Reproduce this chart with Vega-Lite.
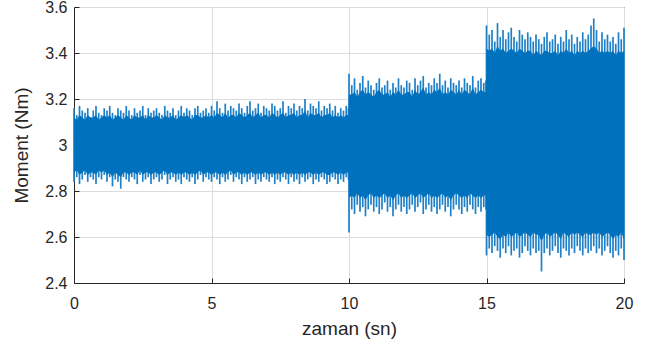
{
"$schema":"https://vega.github.io/schema/vega-lite/v6.json",
"width":550,"height":276,
"autosize":{"type":"none"},
"padding":{"left":74,"top":7,"right":24,"bottom":62},
"background":"white",
"config":{
 "view":{"stroke":"#262626","strokeWidth":1},
 "font":"Liberation Sans",
 "axis":{"domainColor":"#262626","tickColor":"#262626","labelColor":"#262626","titleColor":"#262626","labelFont":"Liberation Sans","titleFont":"Liberation Sans","labelFontSize":16,"titleFontSize":19,"titleFontWeight":"normal","gridColor":"#dcdcdc","labelFlush":false,"labelOverlap":false,"tickSize":-5}
},
"data":{"values":[
{"t":0.0,"hi":3.16,"lo":2.84,"chi":3.12,"clo":2.88},
{"t":0.1,"hi":3.13,"lo":2.86,"chi":3.11,"clo":2.89},
{"t":0.2,"hi":3.17,"lo":2.83,"chi":3.13,"clo":2.87},
{"t":0.3,"hi":3.15,"lo":2.85,"chi":3.12,"clo":2.88},
{"t":0.4,"hi":3.14,"lo":2.87,"chi":3.11,"clo":2.89},
{"t":0.5,"hi":3.16,"lo":2.84,"chi":3.13,"clo":2.87},
{"t":0.6,"hi":3.12,"lo":2.86,"chi":3.12,"clo":2.88},
{"t":0.7,"hi":3.15,"lo":2.85,"chi":3.12,"clo":2.88},
{"t":0.8,"hi":3.17,"lo":2.83,"chi":3.13,"clo":2.87},
{"t":0.9,"hi":3.14,"lo":2.86,"chi":3.11,"clo":2.89},
{"t":1.0,"hi":3.13,"lo":2.85,"chi":3.12,"clo":2.88},
{"t":1.1,"hi":3.16,"lo":2.87,"chi":3.13,"clo":2.89},
{"t":1.2,"hi":3.15,"lo":2.84,"chi":3.12,"clo":2.87},
{"t":1.3,"hi":3.17,"lo":2.86,"chi":3.13,"clo":2.88},
{"t":1.4,"hi":3.14,"lo":2.82,"chi":3.11,"clo":2.86},
{"t":1.5,"hi":3.13,"lo":2.85,"chi":3.12,"clo":2.88},
{"t":1.6,"hi":3.16,"lo":2.84,"chi":3.13,"clo":2.87},
{"t":1.7,"hi":3.15,"lo":2.81,"chi":3.12,"clo":2.86},
{"t":1.8,"hi":3.14,"lo":2.86,"chi":3.11,"clo":2.88},
{"t":1.9,"hi":3.17,"lo":2.85,"chi":3.13,"clo":2.88},
{"t":2.0,"hi":3.15,"lo":2.84,"chi":3.12,"clo":2.87},
{"t":2.1,"hi":3.13,"lo":2.86,"chi":3.11,"clo":2.88},
{"t":2.2,"hi":3.16,"lo":2.85,"chi":3.13,"clo":2.88},
{"t":2.3,"hi":3.14,"lo":2.83,"chi":3.12,"clo":2.87},
{"t":2.4,"hi":3.15,"lo":2.87,"chi":3.12,"clo":2.89},
{"t":2.5,"hi":3.17,"lo":2.84,"chi":3.13,"clo":2.87},
{"t":2.6,"hi":3.13,"lo":2.85,"chi":3.11,"clo":2.88},
{"t":2.7,"hi":3.16,"lo":2.86,"chi":3.13,"clo":2.88},
{"t":2.8,"hi":3.14,"lo":2.83,"chi":3.12,"clo":2.87},
{"t":2.9,"hi":3.15,"lo":2.85,"chi":3.12,"clo":2.88},
{"t":3.0,"hi":3.16,"lo":2.86,"chi":3.13,"clo":2.88},
{"t":3.1,"hi":3.14,"lo":2.84,"chi":3.12,"clo":2.87},
{"t":3.2,"hi":3.13,"lo":2.85,"chi":3.11,"clo":2.88},
{"t":3.3,"hi":3.17,"lo":2.87,"chi":3.13,"clo":2.89},
{"t":3.4,"hi":3.15,"lo":2.83,"chi":3.12,"clo":2.87},
{"t":3.5,"hi":3.14,"lo":2.85,"chi":3.12,"clo":2.88},
{"t":3.6,"hi":3.16,"lo":2.86,"chi":3.13,"clo":2.88},
{"t":3.7,"hi":3.13,"lo":2.84,"chi":3.11,"clo":2.87},
{"t":3.8,"hi":3.15,"lo":2.85,"chi":3.12,"clo":2.88},
{"t":3.9,"hi":3.17,"lo":2.83,"chi":3.13,"clo":2.87},
{"t":4.0,"hi":3.14,"lo":2.86,"chi":3.12,"clo":2.88},
{"t":4.1,"hi":3.16,"lo":2.85,"chi":3.13,"clo":2.88},
{"t":4.2,"hi":3.15,"lo":2.84,"chi":3.12,"clo":2.87},
{"t":4.3,"hi":3.13,"lo":2.86,"chi":3.11,"clo":2.88},
{"t":4.4,"hi":3.16,"lo":2.83,"chi":3.13,"clo":2.87},
{"t":4.5,"hi":3.17,"lo":2.85,"chi":3.13,"clo":2.88},
{"t":4.6,"hi":3.14,"lo":2.87,"chi":3.12,"clo":2.89},
{"t":4.7,"hi":3.15,"lo":2.84,"chi":3.12,"clo":2.87},
{"t":4.8,"hi":3.16,"lo":2.86,"chi":3.13,"clo":2.88},
{"t":4.9,"hi":3.14,"lo":2.85,"chi":3.12,"clo":2.88},
{"t":5.0,"hi":3.17,"lo":2.84,"chi":3.13,"clo":2.87},
{"t":5.1,"hi":3.15,"lo":2.86,"chi":3.12,"clo":2.88},
{"t":5.2,"hi":3.19,"lo":2.85,"chi":3.14,"clo":2.88},
{"t":5.3,"hi":3.16,"lo":2.83,"chi":3.13,"clo":2.87},
{"t":5.4,"hi":3.14,"lo":2.86,"chi":3.12,"clo":2.88},
{"t":5.5,"hi":3.18,"lo":2.84,"chi":3.14,"clo":2.87},
{"t":5.6,"hi":3.15,"lo":2.85,"chi":3.12,"clo":2.88},
{"t":5.7,"hi":3.17,"lo":2.87,"chi":3.13,"clo":2.89},
{"t":5.8,"hi":3.16,"lo":2.84,"chi":3.13,"clo":2.87},
{"t":5.9,"hi":3.15,"lo":2.86,"chi":3.12,"clo":2.88},
{"t":6.0,"hi":3.18,"lo":2.85,"chi":3.14,"clo":2.88},
{"t":6.1,"hi":3.16,"lo":2.83,"chi":3.13,"clo":2.87},
{"t":6.2,"hi":3.14,"lo":2.86,"chi":3.12,"clo":2.88},
{"t":6.3,"hi":3.17,"lo":2.84,"chi":3.13,"clo":2.87},
{"t":6.4,"hi":3.19,"lo":2.85,"chi":3.14,"clo":2.88},
{"t":6.5,"hi":3.15,"lo":2.86,"chi":3.12,"clo":2.88},
{"t":6.6,"hi":3.16,"lo":2.83,"chi":3.13,"clo":2.87},
{"t":6.7,"hi":3.18,"lo":2.85,"chi":3.14,"clo":2.88},
{"t":6.8,"hi":3.14,"lo":2.84,"chi":3.12,"clo":2.87},
{"t":6.9,"hi":3.17,"lo":2.86,"chi":3.13,"clo":2.88},
{"t":7.0,"hi":3.16,"lo":2.85,"chi":3.13,"clo":2.88},
{"t":7.1,"hi":3.15,"lo":2.84,"chi":3.12,"clo":2.87},
{"t":7.2,"hi":3.18,"lo":2.86,"chi":3.14,"clo":2.88},
{"t":7.3,"hi":3.17,"lo":2.83,"chi":3.13,"clo":2.87},
{"t":7.4,"hi":3.15,"lo":2.85,"chi":3.12,"clo":2.88},
{"t":7.5,"hi":3.16,"lo":2.84,"chi":3.13,"clo":2.87},
{"t":7.6,"hi":3.19,"lo":2.86,"chi":3.14,"clo":2.88},
{"t":7.7,"hi":3.14,"lo":2.85,"chi":3.12,"clo":2.88},
{"t":7.8,"hi":3.17,"lo":2.83,"chi":3.13,"clo":2.87},
{"t":7.9,"hi":3.16,"lo":2.86,"chi":3.13,"clo":2.88},
{"t":8.0,"hi":3.18,"lo":2.84,"chi":3.14,"clo":2.87},
{"t":8.1,"hi":3.15,"lo":2.85,"chi":3.12,"clo":2.88},
{"t":8.2,"hi":3.17,"lo":2.83,"chi":3.13,"clo":2.87},
{"t":8.3,"hi":3.16,"lo":2.86,"chi":3.13,"clo":2.88},
{"t":8.4,"hi":3.20,"lo":2.84,"chi":3.15,"clo":2.87},
{"t":8.5,"hi":3.15,"lo":2.85,"chi":3.12,"clo":2.88},
{"t":8.6,"hi":3.18,"lo":2.86,"chi":3.14,"clo":2.88},
{"t":8.7,"hi":3.17,"lo":2.83,"chi":3.13,"clo":2.87},
{"t":8.8,"hi":3.16,"lo":2.85,"chi":3.13,"clo":2.88},
{"t":8.9,"hi":3.19,"lo":2.84,"chi":3.14,"clo":2.87},
{"t":9.0,"hi":3.15,"lo":2.86,"chi":3.12,"clo":2.88},
{"t":9.1,"hi":3.17,"lo":2.85,"chi":3.13,"clo":2.88},
{"t":9.2,"hi":3.16,"lo":2.83,"chi":3.13,"clo":2.87},
{"t":9.3,"hi":3.18,"lo":2.84,"chi":3.14,"clo":2.87},
{"t":9.4,"hi":3.15,"lo":2.86,"chi":3.12,"clo":2.88},
{"t":9.5,"hi":3.17,"lo":2.85,"chi":3.13,"clo":2.88},
{"t":9.6,"hi":3.14,"lo":2.83,"chi":3.12,"clo":2.87},
{"t":9.7,"hi":3.16,"lo":2.85,"chi":3.13,"clo":2.88},
{"t":9.8,"hi":3.15,"lo":2.84,"chi":3.12,"clo":2.87},
{"t":9.9,"hi":3.17,"lo":2.86,"chi":3.13,"clo":2.88},
{"t":9.98,"hi":3.16,"lo":2.85,"chi":3.13,"clo":2.88},
{"t":10.0,"hi":3.31,"lo":2.62,"chi":3.22,"clo":2.77},
{"t":10.1,"hi":3.26,"lo":2.72,"chi":3.22,"clo":2.78},
{"t":10.2,"hi":3.29,"lo":2.70,"chi":3.23,"clo":2.77},
{"t":10.3,"hi":3.24,"lo":2.74,"chi":3.21,"clo":2.79},
{"t":10.4,"hi":3.27,"lo":2.71,"chi":3.23,"clo":2.77},
{"t":10.5,"hi":3.30,"lo":2.73,"chi":3.24,"clo":2.78},
{"t":10.6,"hi":3.25,"lo":2.69,"chi":3.22,"clo":2.76},
{"t":10.7,"hi":3.28,"lo":2.72,"chi":3.23,"clo":2.78},
{"t":10.8,"hi":3.26,"lo":2.74,"chi":3.22,"clo":2.79},
{"t":10.9,"hi":3.24,"lo":2.71,"chi":3.21,"clo":2.77},
{"t":11.0,"hi":3.27,"lo":2.73,"chi":3.23,"clo":2.78},
{"t":11.1,"hi":3.29,"lo":2.70,"chi":3.24,"clo":2.77},
{"t":11.2,"hi":3.25,"lo":2.72,"chi":3.22,"clo":2.78},
{"t":11.3,"hi":3.26,"lo":2.75,"chi":3.22,"clo":2.79},
{"t":11.4,"hi":3.28,"lo":2.71,"chi":3.23,"clo":2.77},
{"t":11.5,"hi":3.24,"lo":2.73,"chi":3.21,"clo":2.78},
{"t":11.6,"hi":3.27,"lo":2.69,"chi":3.23,"clo":2.76},
{"t":11.7,"hi":3.25,"lo":2.72,"chi":3.22,"clo":2.78},
{"t":11.8,"hi":3.29,"lo":2.74,"chi":3.24,"clo":2.79},
{"t":11.9,"hi":3.26,"lo":2.71,"chi":3.22,"clo":2.77},
{"t":12.0,"hi":3.25,"lo":2.73,"chi":3.22,"clo":2.78},
{"t":12.1,"hi":3.28,"lo":2.70,"chi":3.23,"clo":2.77},
{"t":12.2,"hi":3.27,"lo":2.72,"chi":3.23,"clo":2.78},
{"t":12.3,"hi":3.24,"lo":2.74,"chi":3.21,"clo":2.79},
{"t":12.4,"hi":3.29,"lo":2.71,"chi":3.24,"clo":2.77},
{"t":12.5,"hi":3.26,"lo":2.73,"chi":3.22,"clo":2.78},
{"t":12.6,"hi":3.28,"lo":2.75,"chi":3.23,"clo":2.79},
{"t":12.7,"hi":3.30,"lo":2.70,"chi":3.25,"clo":2.77},
{"t":12.8,"hi":3.25,"lo":2.72,"chi":3.22,"clo":2.78},
{"t":12.9,"hi":3.27,"lo":2.74,"chi":3.23,"clo":2.79},
{"t":13.0,"hi":3.26,"lo":2.71,"chi":3.22,"clo":2.77},
{"t":13.1,"hi":3.29,"lo":2.73,"chi":3.24,"clo":2.78},
{"t":13.2,"hi":3.27,"lo":2.70,"chi":3.23,"clo":2.77},
{"t":13.3,"hi":3.31,"lo":2.72,"chi":3.25,"clo":2.78},
{"t":13.4,"hi":3.26,"lo":2.74,"chi":3.22,"clo":2.79},
{"t":13.5,"hi":3.28,"lo":2.71,"chi":3.23,"clo":2.77},
{"t":13.6,"hi":3.25,"lo":2.73,"chi":3.22,"clo":2.78},
{"t":13.7,"hi":3.29,"lo":2.69,"chi":3.24,"clo":2.76},
{"t":13.8,"hi":3.27,"lo":2.72,"chi":3.23,"clo":2.78},
{"t":13.9,"hi":3.26,"lo":2.74,"chi":3.22,"clo":2.79},
{"t":14.0,"hi":3.28,"lo":2.72,"chi":3.24,"clo":2.78},
{"t":14.1,"hi":3.25,"lo":2.70,"chi":3.22,"clo":2.77},
{"t":14.2,"hi":3.29,"lo":2.73,"chi":3.24,"clo":2.78},
{"t":14.3,"hi":3.27,"lo":2.71,"chi":3.23,"clo":2.77},
{"t":14.4,"hi":3.26,"lo":2.74,"chi":3.22,"clo":2.79},
{"t":14.5,"hi":3.30,"lo":2.72,"chi":3.25,"clo":2.78},
{"t":14.6,"hi":3.25,"lo":2.70,"chi":3.22,"clo":2.77},
{"t":14.7,"hi":3.28,"lo":2.73,"chi":3.23,"clo":2.78},
{"t":14.8,"hi":3.29,"lo":2.71,"chi":3.24,"clo":2.77},
{"t":14.9,"hi":3.27,"lo":2.73,"chi":3.23,"clo":2.78},
{"t":14.98,"hi":3.28,"lo":2.72,"chi":3.23,"clo":2.78},
{"t":15.0,"hi":3.52,"lo":2.52,"chi":3.42,"clo":2.61},
{"t":15.1,"hi":3.48,"lo":2.55,"chi":3.41,"clo":2.60},
{"t":15.2,"hi":3.50,"lo":2.53,"chi":3.42,"clo":2.61},
{"t":15.3,"hi":3.45,"lo":2.56,"chi":3.40,"clo":2.62},
{"t":15.4,"hi":3.53,"lo":2.54,"chi":3.43,"clo":2.60},
{"t":15.5,"hi":3.47,"lo":2.51,"chi":3.41,"clo":2.59},
{"t":15.6,"hi":3.50,"lo":2.55,"chi":3.42,"clo":2.61},
{"t":15.7,"hi":3.46,"lo":2.53,"chi":3.40,"clo":2.60},
{"t":15.8,"hi":3.49,"lo":2.56,"chi":3.41,"clo":2.62},
{"t":15.9,"hi":3.51,"lo":2.52,"chi":3.42,"clo":2.60},
{"t":16.0,"hi":3.47,"lo":2.54,"chi":3.41,"clo":2.61},
{"t":16.1,"hi":3.45,"lo":2.55,"chi":3.40,"clo":2.62},
{"t":16.2,"hi":3.50,"lo":2.51,"chi":3.42,"clo":2.60},
{"t":16.3,"hi":3.48,"lo":2.53,"chi":3.41,"clo":2.61},
{"t":16.4,"hi":3.46,"lo":2.56,"chi":3.40,"clo":2.62},
{"t":16.5,"hi":3.49,"lo":2.54,"chi":3.41,"clo":2.61},
{"t":16.6,"hi":3.47,"lo":2.52,"chi":3.41,"clo":2.60},
{"t":16.7,"hi":3.45,"lo":2.55,"chi":3.39,"clo":2.62},
{"t":16.8,"hi":3.48,"lo":2.53,"chi":3.41,"clo":2.61},
{"t":16.9,"hi":3.46,"lo":2.54,"chi":3.40,"clo":2.61},
{"t":17.0,"hi":3.44,"lo":2.45,"chi":3.39,"clo":2.58},
{"t":17.1,"hi":3.47,"lo":2.53,"chi":3.41,"clo":2.61},
{"t":17.2,"hi":3.49,"lo":2.55,"chi":3.41,"clo":2.62},
{"t":17.3,"hi":3.45,"lo":2.52,"chi":3.40,"clo":2.60},
{"t":17.4,"hi":3.46,"lo":2.54,"chi":3.40,"clo":2.61},
{"t":17.5,"hi":3.48,"lo":2.56,"chi":3.41,"clo":2.62},
{"t":17.6,"hi":3.44,"lo":2.53,"chi":3.39,"clo":2.61},
{"t":17.7,"hi":3.47,"lo":2.51,"chi":3.41,"clo":2.59},
{"t":17.8,"hi":3.45,"lo":2.55,"chi":3.40,"clo":2.62},
{"t":17.9,"hi":3.50,"lo":2.54,"chi":3.42,"clo":2.61},
{"t":18.0,"hi":3.46,"lo":2.52,"chi":3.40,"clo":2.60},
{"t":18.1,"hi":3.48,"lo":2.55,"chi":3.41,"clo":2.62},
{"t":18.2,"hi":3.44,"lo":2.53,"chi":3.39,"clo":2.61},
{"t":18.3,"hi":3.47,"lo":2.56,"chi":3.41,"clo":2.62},
{"t":18.4,"hi":3.45,"lo":2.54,"chi":3.40,"clo":2.61},
{"t":18.5,"hi":3.49,"lo":2.52,"chi":3.41,"clo":2.60},
{"t":18.6,"hi":3.46,"lo":2.55,"chi":3.40,"clo":2.62},
{"t":18.7,"hi":3.48,"lo":2.53,"chi":3.41,"clo":2.61},
{"t":18.8,"hi":3.52,"lo":2.54,"chi":3.42,"clo":2.61},
{"t":18.9,"hi":3.55,"lo":2.56,"chi":3.43,"clo":2.62},
{"t":19.0,"hi":3.50,"lo":2.53,"chi":3.42,"clo":2.61},
{"t":19.1,"hi":3.45,"lo":2.55,"chi":3.40,"clo":2.62},
{"t":19.2,"hi":3.49,"lo":2.52,"chi":3.41,"clo":2.60},
{"t":19.3,"hi":3.46,"lo":2.54,"chi":3.40,"clo":2.61},
{"t":19.4,"hi":3.48,"lo":2.56,"chi":3.41,"clo":2.62},
{"t":19.5,"hi":3.45,"lo":2.53,"chi":3.40,"clo":2.61},
{"t":19.6,"hi":3.47,"lo":2.51,"chi":3.41,"clo":2.59},
{"t":19.7,"hi":3.44,"lo":2.54,"chi":3.39,"clo":2.61},
{"t":19.8,"hi":3.49,"lo":2.52,"chi":3.41,"clo":2.60},
{"t":19.9,"hi":3.46,"lo":2.55,"chi":3.40,"clo":2.62},
{"t":20.0,"hi":3.51,"lo":2.50,"chi":3.41,"clo":2.59}
]},
"layer":[
 {"mark":{"type":"rule","color":"#1f80c8","strokeWidth":1.7},
  "encoding":{
   "x":{"field":"t","type":"quantitative","title":"zaman (sn)","scale":{"domain":[0,20],"nice":false,"zero":false},
        "axis":{"values":[0,5,10,15,20],"grid":true,"labelPadding":17,"titleX":275,"titleY":51,"titleBaseline":"alphabetic","titleAnchor":"middle"}},
   "y":{"field":"lo","type":"quantitative","title":"Moment (Nm)","scale":{"domain":[2.4,3.6],"nice":false,"zero":false},
        "axis":{"values":[2.4,2.6,2.8,3.0,3.2,3.4,3.6],"format":".1~f","grid":true,"labelPadding":12,"titleX":-47,"titleY":138,"titleAngle":-90,"titleBaseline":"alphabetic","titleAlign":"center"}},
   "y2":{"field":"hi"}
  }},
 {"mark":{"type":"area","color":"#0072bd","opacity":1},
  "encoding":{
   "x":{"field":"t","type":"quantitative","title":"zaman (sn)"},
   "y":{"field":"clo","type":"quantitative","title":"Moment (Nm)"},
   "y2":{"field":"chi"}
  }}
]
}
